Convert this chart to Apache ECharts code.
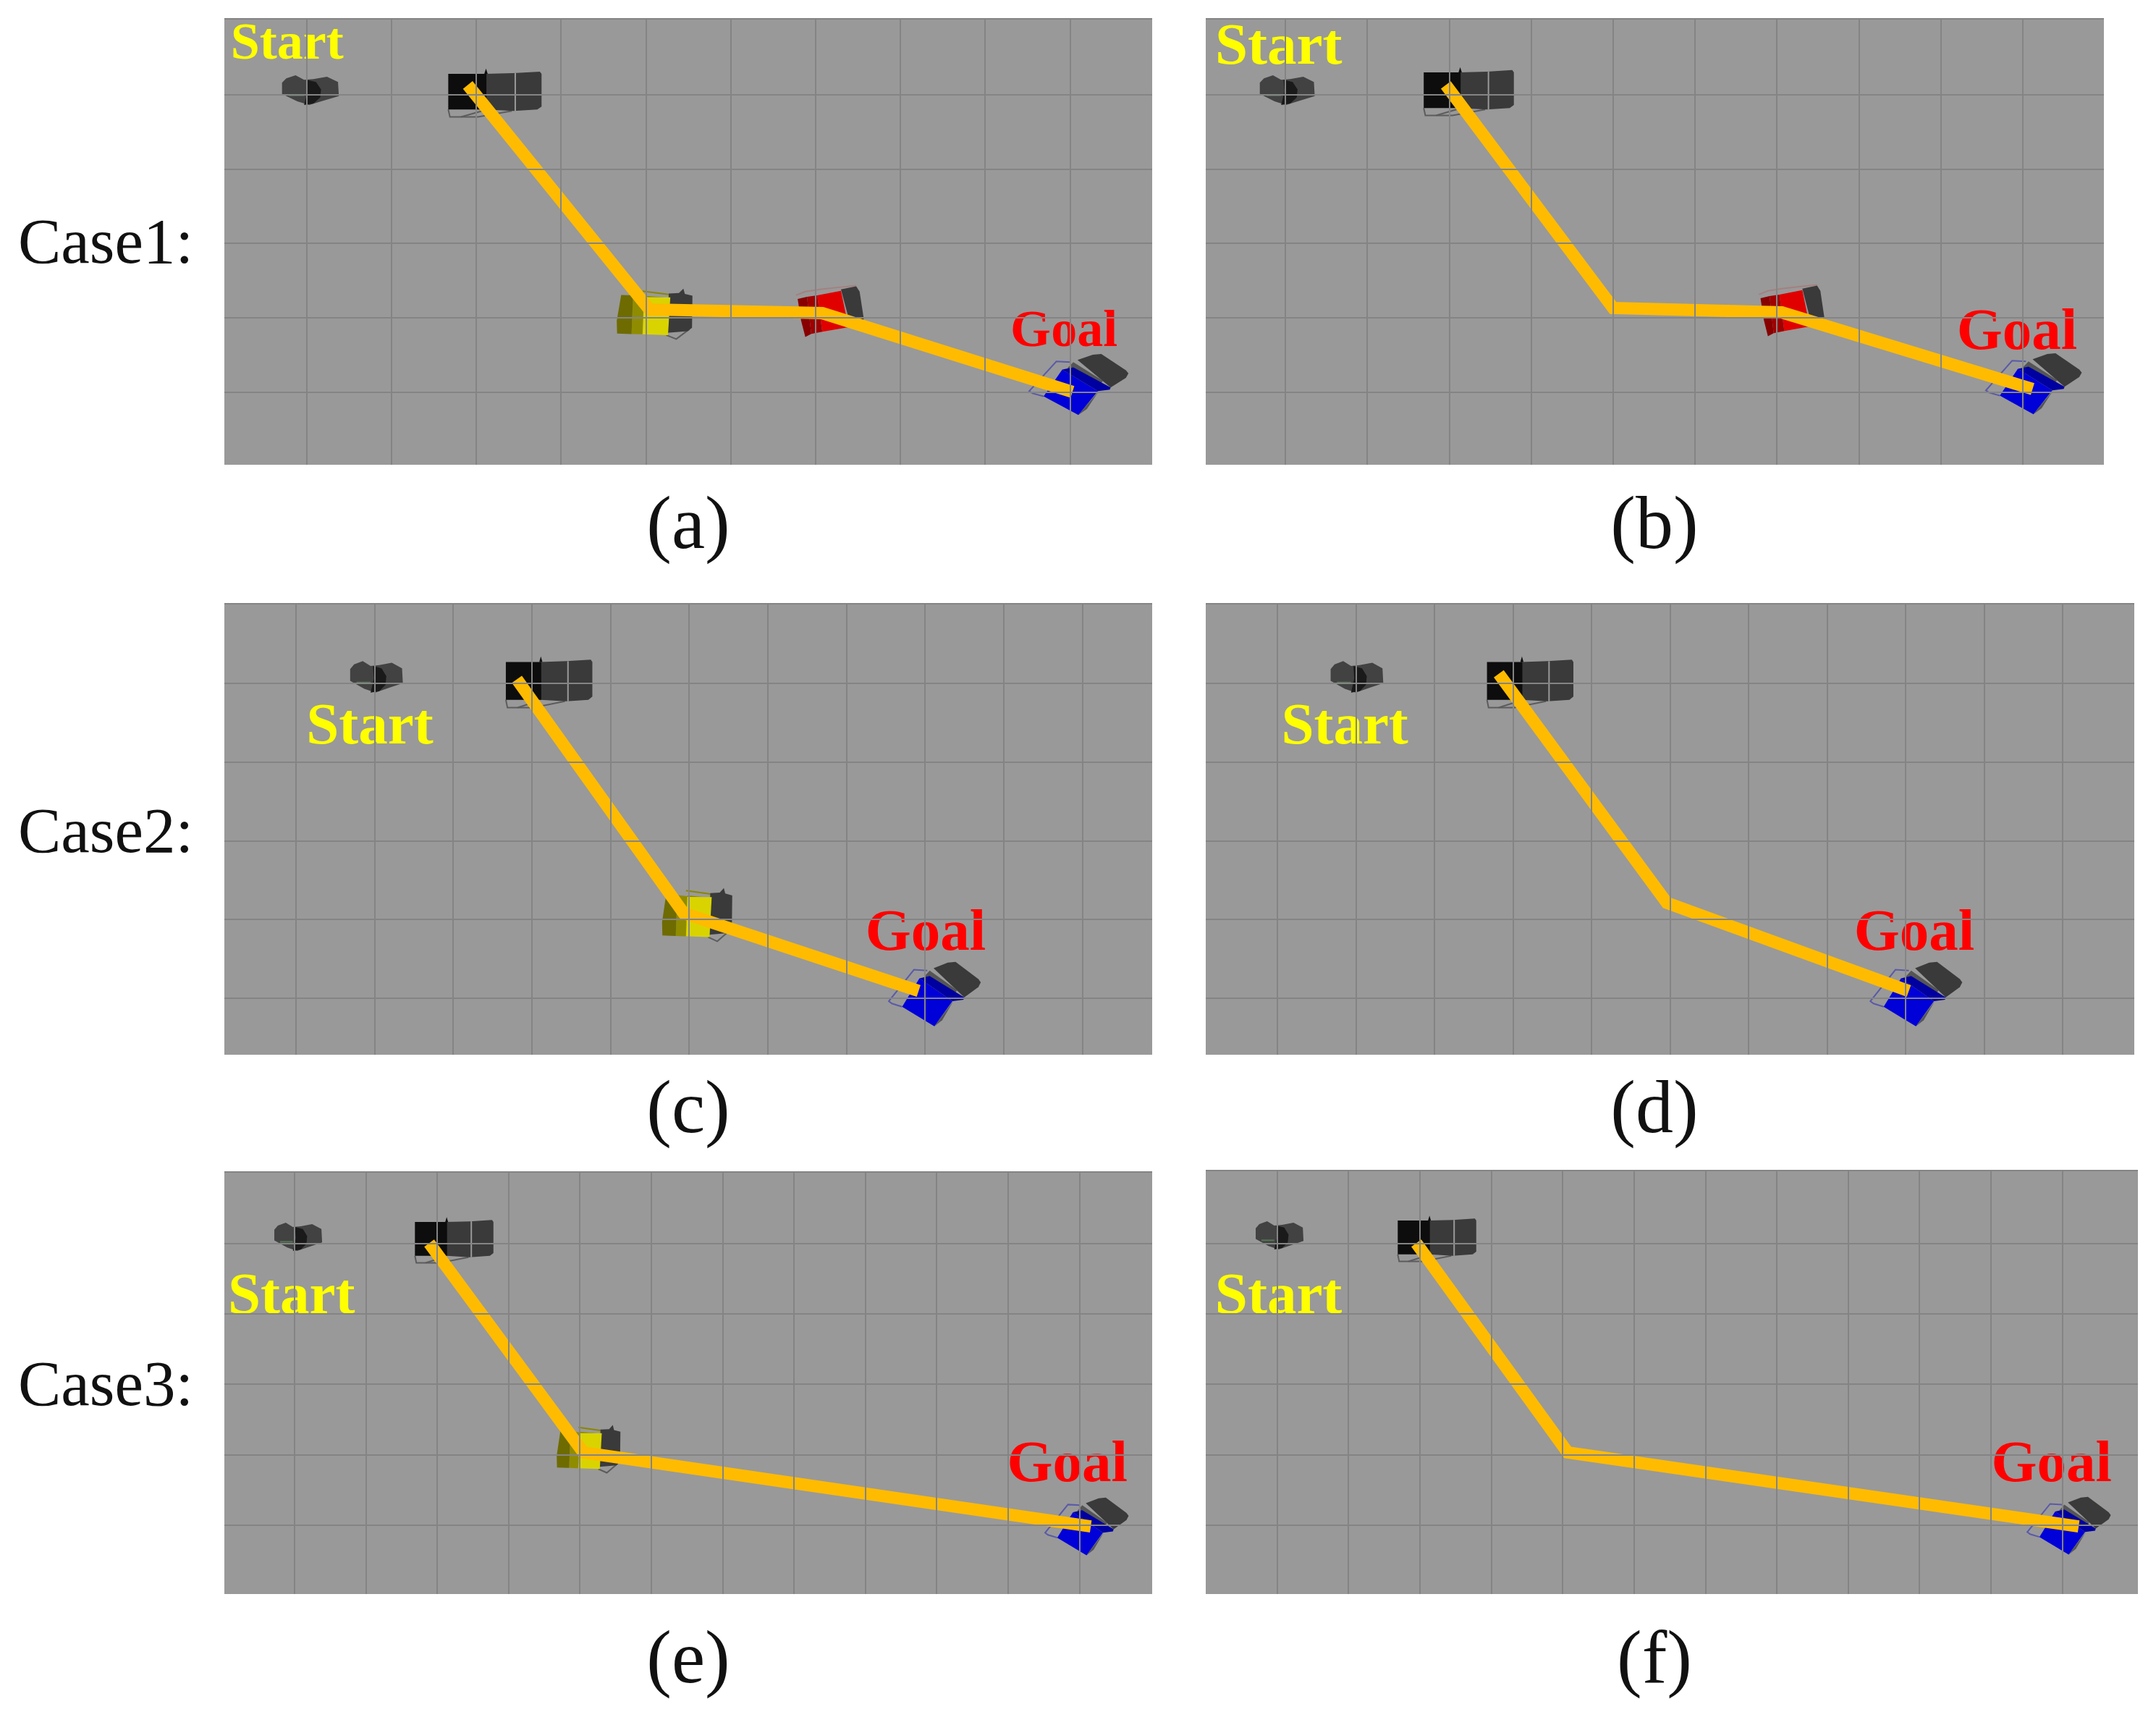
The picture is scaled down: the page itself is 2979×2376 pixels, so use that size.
<!DOCTYPE html>
<html>
<head>
<meta charset="utf-8">
<title>Case paths</title>
<script src="https://cdn.jsdelivr.net/npm/echarts@6/dist/echarts.min.js"></script>
<style>
html, body { margin: 0; padding: 0; background: #fff; }
#main { width: 2979px; height: 2376px; }
</style>
</head>
<body>
<div id="main"></div>
<script>
// all positions below are in floor cells, first drawn grid line = 0
var linesX10 = [0, 1, 2, 3, 4, 5, 6, 7, 8, 9];
var linesX11 = [0, 1, 2, 3, 4, 5, 6, 7, 8, 9, 10];
var linesX12 = [0, 1, 2, 3, 4, 5, 6, 7, 8, 9, 10, 11];
var linesY = [0, 1, 2, 3, 4];

var pathA = [[1.90, -0.13], [4.04, 2.89], [6.08, 2.94], [9.03, 4.00]];
var pathB = [[1.96, -0.13], [4.00, 2.87], [6.06, 2.93], [9.12, 3.96]];
var pathC = [[2.81, -0.05], [4.93, 2.92], [7.92, 3.91]];
var pathD = [[2.82, -0.12], [4.96, 2.79], [8.04, 3.91]];
var pathE = [[1.89, 0.00], [4.05, 2.97], [11.16, 4.02]];
var pathF = [[1.95, 0.00], [4.07, 2.97], [11.23, 4.02]];

// kind, x, y, heading in degrees
var robotsA = [['person', 0.05, -0.07, 0], ['black', 2.22, -0.04, 0], ['yellow', 4.10, 2.96, 2], ['red', 6.20, 2.91, 0], ['blue', 9.15, 3.91, 0]];
var robotsB = [['person', 0.03, -0.07, 0], ['black', 2.24, -0.06, 0], ['red', 6.21, 2.90, 0], ['blue', 9.18, 3.90, 0]];
var robotsC = [['person', 1.03, -0.09, 0], ['black', 3.22, -0.03, 0], ['yellow', 5.10, 2.95, 2], ['blue', 8.17, 3.96, 0]];
var robotsD = [['person', 1.02, -0.09, 0], ['black', 3.22, -0.03, 0], ['blue', 8.18, 3.96, 0]];
var robotsE = [['person', 0.06, -0.10, 0], ['black', 2.24, -0.06, 0], ['yellow', 4.12, 2.93, 2], ['blue', 11.15, 4.03, 0]];
var robotsF = [['person', 0.04, -0.12, 0], ['black', 2.24, -0.08, 0], ['blue', 11.14, 4.02, 0]];

// text, x, y
var marksA = [['Start', -0.23, -0.67], ['Goal', 8.93, 3.20]];
var marksB = [['Start', -0.08, -0.62], ['Goal', 8.93, 3.22]];
var marksC = [['Start', 0.94, 0.57], ['Goal', 8.01, 3.19]];
var marksD = [['Start', 0.86, 0.57], ['Goal', 8.11, 3.19]];
var marksE = [['Start', -0.04, 0.78], ['Goal', 10.83, 3.16]];
var marksF = [['Start', 0.02, 0.78], ['Goal', 10.85, 3.16]];

var caseLabels = ['Case1:', 'Case2:', 'Case3:'];
var panelLabels = ['(a)', '(b)', '(c)', '(d)', '(e)', '(f)'];

var panels = [
    {box: [310, 26, 1282, 616],  rx: [-0.97, 9.97],  ry: [-1.02, 4.98], lines: linesX10, path: pathA, robots: robotsA, marks: marksA, font: 72, cap: [946, 733]},
    {box: [1666, 26, 1241, 616], rx: [-0.97, 9.99],  ry: [-1.02, 4.98], lines: linesX10, path: pathB, robots: robotsB, marks: marksB, font: 81, cap: [2281, 733]},
    {box: [310, 834, 1282, 623], rx: [-0.91, 10.89], ry: [-1.01, 4.72], lines: linesX11, path: pathC, robots: robotsC, marks: marksC, font: 81, cap: [946, 1540]},
    {box: [1666, 834, 1283, 623], rx: [-0.91, 10.91], ry: [-1.01, 4.72], lines: linesX11, path: pathD, robots: robotsD, marks: marksD, font: 81, cap: [2281, 1540]},
    {box: [310, 1619, 1282, 583], rx: [-0.98, 12.02], ry: [-1.01, 4.98], lines: linesX12, path: pathE, robots: robotsE, marks: marksE, font: 81, cap: [946, 2300]},
    {box: [1666, 1617, 1288, 585], rx: [-1.00, 12.06], ry: [-1.03, 4.98], lines: linesX12, path: pathF, robots: robotsF, marks: marksF, font: 81, cap: [2281, 2300]}
];

var GRAY = '#3a3a3a', WIRE = '#5c5c5c';

// robot outlines in cells around the robot centre: [points, fill] or [points, null, stroke]
var robotShapes = {
    person: [
        [[[-0.34, -0.09], [-0.29, -0.15], [-0.18, -0.19], [-0.08, -0.13], [0.03, -0.14], [0.19, -0.17], [0.32, -0.10], [0.33, 0.09], [0.15, 0.15], [-0.02, 0.21], [-0.16, 0.16], [-0.34, 0.06]], '#424242'],
        [[[-0.05, -0.13], [0.06, -0.10], [0.12, 0.00], [0.11, 0.11], [0.03, 0.19], [-0.08, 0.21], [-0.04, 0.03]], '#1a1a1a'],
        [[[-0.26, 0.08], [-0.08, 0.08]], null, '#557755']
    ],
    black: [
        [[[-0.55, 0.24], [-0.53, 0.34], [-0.20, 0.34], [0.20, 0.26]], null, WIRE],
        [[[-0.40, 0.34], [-0.15, 0.26]], null, WIRE],
        [[[-0.11, -0.24], [0.22, -0.25], [0.53, -0.27], [0.55, -0.24], [0.55, 0.20], [0.50, 0.24], [0.22, 0.26], [-0.11, 0.24]], GRAY],
        [[[0.24, -0.25], [0.24, 0.26]], null, '#9a9a9a'],
        [[[-0.55, -0.24], [-0.10, -0.24], [-0.10, 0.24], [-0.55, 0.24]], '#0d0d0d'],
        [[[-0.125, -0.24], [-0.105, -0.31], [-0.085, -0.24]], '#0d0d0d']
    ],
    yellow: [
        [[[-0.15, -0.31], [0.23, -0.27], [0.19, -0.22], [-0.13, -0.24]], null, '#8a8600'],
        [[[0.15, 0.27], [0.27, 0.32], [0.42, 0.18]], null, WIRE],
        [[[0.16, -0.29], [0.28, -0.30], [0.33, -0.36], [0.35, -0.29], [0.44, -0.27], [0.45, 0.16], [0.40, 0.21], [0.16, 0.24]], GRAY],
        [[[-0.14, -0.23], [0.18, -0.24], [0.17, 0.27], [-0.14, 0.27]], '#d9d400'],
        [[[-0.26, -0.25], [-0.13, -0.24], [-0.13, 0.27], [-0.26, 0.27]], '#908c00'],
        [[[-0.40, -0.25], [-0.26, -0.25], [-0.26, 0.27], [-0.43, 0.27], [-0.44, 0.10]], '#6e6b00']
    ],
    red: [
        [[[-0.43, -0.21], [-0.32, -0.26], [-0.15, -0.29], [0.10, -0.32], [0.28, -0.34]], null, '#a58080'],
        [[[0.10, -0.29], [0.28, -0.33], [0.32, -0.26], [0.37, 0.11], [0.33, 0.16], [0.22, 0.22]], GRAY],
        [[[-0.18, -0.21], [0.10, -0.27], [0.19, 0.22], [-0.12, 0.28]], '#e00000'],
        [[[-0.30, -0.19], [-0.18, -0.21], [-0.12, 0.28], [-0.25, 0.31]], '#a00000'],
        [[[-0.41, -0.16], [-0.30, -0.19], [-0.25, 0.31], [-0.32, 0.35], [-0.37, 0.13]], '#880000']
    ],
    blue: [
        [[[-0.14, -0.31], [-0.31, -0.32], [-0.63, 0.08], [-0.59, 0.11], [-0.46, 0.15]], null, '#5a5aa8'],
        [[[0.12, -0.41], [0.22, -0.42], [0.51, -0.20], [0.54, -0.16], [0.51, -0.10], [0.33, 0.03], [-0.06, -0.34]], GRAY],
        [[[-0.18, -0.23], [-0.11, -0.31], [0.24, -0.06], [0.20, 0.00]], '#555555'],
        [[[0.19, 0.08], [0.05, 0.32], [-0.05, 0.40]], '#555555'],
        [[[-0.24, -0.21], [0.18, 0.08], [-0.05, 0.40], [-0.46, 0.15]], '#0000d8'],
        [[[-0.11, -0.24], [0.33, 0.03], [0.32, 0.06], [0.18, 0.08], [-0.24, -0.21]], '#0000a0']
    ]
};

function renderRobots(list) {
    return function (params, api) {
        var r = list[params.dataIndex];
        var a = r[3] * Math.PI / 180, c = Math.cos(a), s = Math.sin(a);
        var parts = robotShapes[r[0]].map(function (p) {
            var pts = p[0].map(function (q) {
                return api.coord([r[1] + q[0] * c - q[1] * s, r[2] + q[0] * s + q[1] * c]);
            });
            if (p[1]) {
                return {type: 'polygon', shape: {points: pts}, style: {fill: p[1]}};
            }
            return {type: 'polyline', shape: {points: pts}, style: {fill: null, stroke: p[2], lineWidth: 2}};
        });
        return {type: 'group', children: parts};
    };
}

var grids = [], xAxes = [], yAxes = [], series = [], titles = [];

panels.forEach(function (p, i) {
    grids.push({show: true, left: p.box[0], top: p.box[1], width: p.box[2], height: p.box[3],
        backgroundColor: '#999999', borderWidth: 0});
    xAxes.push({type: 'value', gridIndex: i, min: p.rx[0], max: p.rx[1], show: false});
    yAxes.push({type: 'value', gridIndex: i, min: p.ry[0], max: p.ry[1], inverse: true, show: false});

    // floor grid
    series.push({
        type: 'line', xAxisIndex: i, yAxisIndex: i, data: [], z: 1, silent: true,
        markLine: {
            silent: true, symbol: 'none', label: {show: false}, animation: false,
            lineStyle: {color: '#848484', width: 2, type: 'solid'},
            data: p.lines.map(function (v) { return {xAxis: v}; })
                .concat(linesY.map(function (v) { return {yAxis: v}; }))
                .concat([{yAxis: p.ry[0]}])
        }
    });
    series.push({
        type: 'custom', xAxisIndex: i, yAxisIndex: i, z: 2, silent: true,
        renderItem: renderRobots(p.robots),
        data: p.robots.map(function (r) { return [r[1], r[2]]; })
    });
    series.push({
        type: 'line', xAxisIndex: i, yAxisIndex: i, z: 3, silent: true, showSymbol: false,
        lineStyle: {color: '#ffbb00', width: 17, cap: 'butt', join: 'miter'},
        data: p.path
    });
    series.push({
        type: 'scatter', xAxisIndex: i, yAxisIndex: i, z: 4, silent: true, symbolSize: 1,
        itemStyle: {color: 'transparent', opacity: 1},
        data: p.marks.map(function (m) {
            return {
                name: m[0], value: [m[1], m[2]],
                label: {
                    show: true, position: 'inside', formatter: '{b}',
                    fontFamily: 'Liberation Serif', fontWeight: 'bold', fontSize: p.font,
                    color: m[0] === 'Start' ? '#ffff00' : '#ff0000'
                }
            };
        })
    });
    titles.push({
        text: panelLabels[i], left: p.cap[0], top: p.cap[1] - 60, textAlign: 'center',
        textStyle: {fontFamily: 'Liberation Serif', fontWeight: 'normal', fontSize: 104, color: '#111111'}
    });
});

var caseY = [336, 1150, 1914];
caseLabels.forEach(function (t, i) {
    titles.push({
        text: t, left: 20, top: caseY[i] - 46,
        textStyle: {fontFamily: 'Liberation Serif', fontWeight: 'normal', fontSize: 89, color: '#111111'}
    });
});

var myChart = echarts.init(document.getElementById('main'), null, {renderer: 'canvas', devicePixelRatio: 1});
myChart.setOption({
    animation: false,
    backgroundColor: '#ffffff',
    title: titles,
    grid: grids,
    xAxis: xAxes,
    yAxis: yAxes,
    series: series
});
</script>
</body>
</html>
